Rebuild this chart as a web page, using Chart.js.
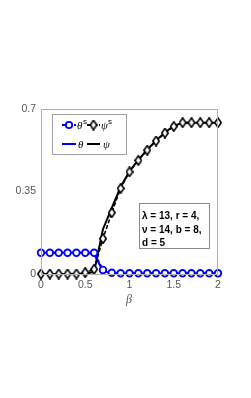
<!DOCTYPE html>
<html><head><meta charset="utf-8">
<script src="https://cdn.jsdelivr.net/npm/chart.js@4.4.1/dist/chart.umd.min.js"></script>
<style>html,body{margin:0;padding:0;background:#fff;}#wrap{position:relative;width:251px;height:398px;}</style>
</head><body><div id="wrap"><canvas id="c" width="251" height="398"></canvas></div>
<script>
const betas = [0,0.1,0.2,0.3,0.4,0.5,0.6,0.7,0.8,0.9,1.0,1.1,1.2,1.3,1.4,1.5,1.6,1.7,1.8,1.9,2.0];
const thetaS = [0.09,0.09,0.09,0.09,0.09,0.09,0.09,0.017,0.005,0.003,0.003,0.003,0.003,0.003,0.003,0.003,0.003,0.003,0.003,0.003,0.003];
const psiS   = [0,0,0,0,0,0.006,0.02,0.15,0.26,0.363,0.433,0.482,0.525,0.564,0.598,0.626,0.642,0.642,0.642,0.642,0.642];
const theta  = [0.09,0.09,0.09,0.09,0.09,0.09,0.085,0.012,0.004,0.002,0.002,0.002,0.002,0.002,0.002,0.002,0.002,0.002,0.002,0.002,0.002];
const psi    = [0,0,0,0,0,0,0.01,0.19,0.28,0.37,0.436,0.484,0.527,0.566,0.6,0.628,0.642,0.642,0.642,0.642,0.642];
const xTicks = [0,0.5,1,1.5,2];
const yTicks = [0,0.35,0.7];
const legendLabels = ['θ','ψ'];
const annotLines = ['λ = 13, r = 4,','ν = 14, b = 8,','d = 5'];

const pts = arr => arr.map((v,i)=>({x:betas[i],y:v}));
const BLUE = '#0000ff';

function diamondImg(w,h){
  const c=document.createElement('canvas');c.width=w;c.height=h;
  const g=c.getContext('2d');
  g.beginPath();g.moveTo(w/2,0.8);g.lineTo(w-0.8,h/2);g.lineTo(w/2,h-0.8);g.lineTo(0.8,h/2);g.closePath();
  g.fillStyle='#fff';g.fill();g.strokeStyle='#000';g.lineWidth=1.6;g.stroke();
  return c;
}
const DIAM = diamondImg(8,11);

const framePlugin = {
  id:'frame',
  afterDatasetsDraw(chart){
    const {ctx, chartArea:a} = chart;
    ctx.save();
    ctx.strokeStyle='#b0b0b0'; ctx.lineWidth=1;
    ctx.strokeRect(a.left+0.5,a.top+0.5,a.right-a.left-1,a.bottom-a.top);
    // legend box
    ctx.fillStyle='#fff'; ctx.strokeStyle='#a0a0a0';
    ctx.fillRect(52,114,75,40); ctx.strokeRect(52.5,114.5,74,40);
    function seg(x0,x1,yy,col,dash){ctx.beginPath();ctx.setLineDash(dash||[]);ctx.strokeStyle=col;ctx.lineWidth=2;ctx.moveTo(x0,yy);ctx.lineTo(x1,yy);ctx.stroke();ctx.setLineDash([]);}
    seg(62,76,125,BLUE,[4,2]);
    ctx.beginPath();ctx.arc(69,125,3.2,0,Math.PI*2);ctx.fillStyle='#fff';ctx.fill();ctx.strokeStyle=BLUE;ctx.lineWidth=1.8;ctx.stroke();
    seg(87,100,125,'#000',[4,2]);
    ctx.drawImage(DIAM,89.5,119.5);
    seg(62,76,144,BLUE);
    seg(87,100,144,'#000');
    ctx.fillStyle='#000';ctx.textBaseline='alphabetic';ctx.textAlign='left';
    ctx.font='italic 11px "Liberation Serif"';
    ctx.fillText(legendLabels[0],77,129);ctx.fillText(legendLabels[1],101,129);
    ctx.fillText(legendLabels[0],78,148);ctx.fillText(legendLabels[1],103,148);
    ctx.font='8px "Liberation Sans"';
    ctx.fillText('s',83,124);ctx.fillText('s',108,124);
    // annotation box
    ctx.fillStyle='#fff';ctx.fillRect(139,203,70,45);
    ctx.strokeStyle='#8a8a8a';ctx.lineWidth=1;ctx.strokeRect(139.5,203.5,70,45);
    ctx.fillStyle='#000';ctx.font='bold 10px "Liberation Sans"';
    annotLines.forEach((t,i)=>ctx.fillText(t,142,219+i*13.5));
    // x-axis title
    ctx.fillStyle='#555';ctx.font='italic 12px "Liberation Serif"';ctx.textAlign='center';
    ctx.fillText('β',129,303);
    ctx.restore();
  }
};

new Chart(document.getElementById('c'),{
  type:'line',
  data:{datasets:[
    {label:'θs',data:pts(thetaS),borderColor:BLUE,borderWidth:2,borderDash:[4,2],pointStyle:'circle',pointRadius:3.3,pointBorderWidth:1.8,pointBackgroundColor:'#fff',pointBorderColor:BLUE,clip:false,order:1,tension:0},
    {label:'ψs',data:pts(psiS),borderColor:'#000',borderWidth:1.5,borderDash:[4,2],pointStyle:DIAM,pointRadius:4,clip:false,order:2,tension:0},
    {label:'θ',data:pts(theta),borderColor:BLUE,borderWidth:2,pointRadius:0,clip:false,order:3,tension:0},
    {label:'ψ',data:pts(psi),borderColor:'#000',borderWidth:2,pointRadius:0,clip:false,order:4,tension:0}
  ]},
  options:{
    responsive:false,animation:false,devicePixelRatio:1,
    layout:{padding:{top:109,right:33,left:0,bottom:0}},
    plugins:{legend:{display:false},tooltip:{enabled:false}},
    scales:{
      x:{type:'linear',min:0,max:2,
        afterBuildTicks:s=>{s.ticks=xTicks.map(v=>({value:v}));},
        afterFit:s=>{s.height=124;},
        grid:{display:false,drawTicks:false},border:{display:false},
        ticks:{color:'#555',font:{family:'Liberation Sans',size:10.5},padding:5,maxRotation:0,callback:v=>String(v)}},
      y:{min:0,max:0.7,
        afterBuildTicks:s=>{s.ticks=yTicks.map(v=>({value:v}));},
        afterFit:s=>{s.width=41;},
        grid:{display:false,drawTicks:false},border:{display:false},
        ticks:{color:'#555',font:{family:'Liberation Sans',size:10.5},padding:5,callback:v=>String(v)}}
    }
  },
  plugins:[framePlugin]
});
</script></body></html>
